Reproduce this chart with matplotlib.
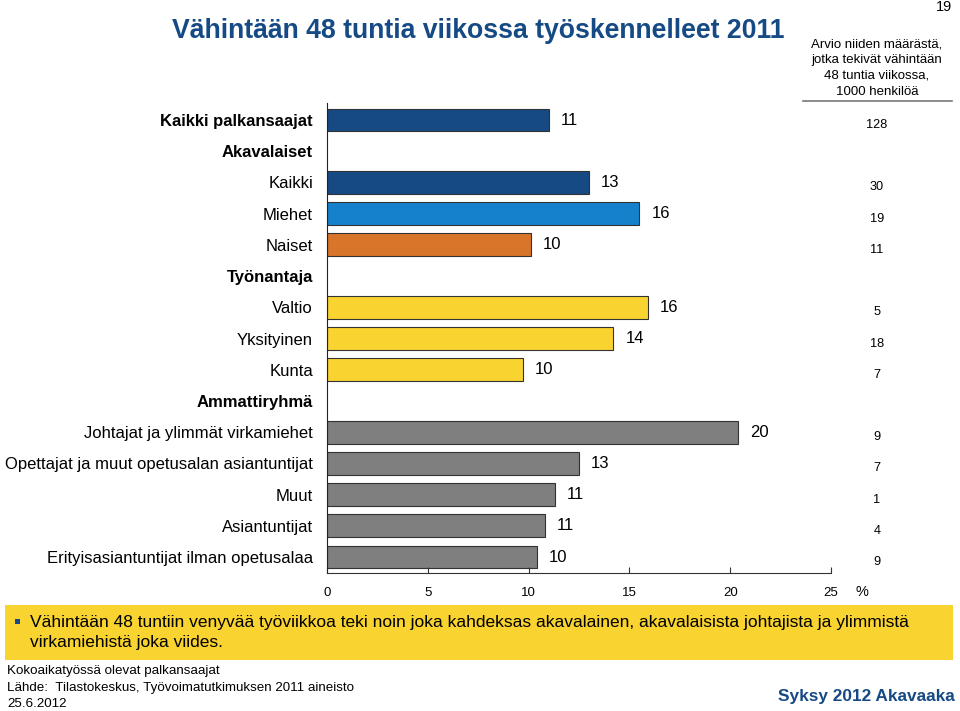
import matplotlib.pyplot as plt
from matplotlib.patches import Rectangle

plt.rcParams['font.family'] = ['Liberation Sans', 'DejaVu Sans']

# rows from top to bottom; header rows have no bar
labels = ['Kaikki palkansaajat', 'Akavalaiset', 'Kaikki', 'Miehet', 'Naiset',
          'Työnantaja', 'Valtio', 'Yksityinen', 'Kunta', 'Ammattiryhmä',
          'Johtajat ja ylimmät virkamiehet',
          'Opettajat ja muut opetusalan asiantuntijat', 'Muut',
          'Asiantuntijat', 'Erityisasiantuntijat ilman opetusalaa']
bold_rows = ['Kaikki palkansaajat', 'Akavalaiset', 'Työnantaja', 'Ammattiryhmä']
values = [11.0, None, 13.0, 15.5, 10.1, None, 15.9, 14.2, 9.7, None,
          20.4, 12.5, 11.3, 10.8, 10.4]
value_labels = ['11', '', '13', '16', '10', '', '16', '14', '10', '',
                '20', '13', '11', '11', '10']
counts = ['128', '', '30', '19', '11', '', '5', '18', '7', '',
          '9', '7', '1', '4', '9']

DARK = '#164a85'
LIGHT = '#1581cc'
ORANGE = '#d9742b'
YELLOW = '#f9d330'
GRAY = '#7f7f7f'
colors = [DARK, None, DARK, LIGHT, ORANGE, None, YELLOW, YELLOW, YELLOW, None,
          GRAY, GRAY, GRAY, GRAY, GRAY]

fig = plt.figure(figsize=(9.6, 7.11), dpi=100)
ax = fig.add_axes([327 / 960, 1 - 573 / 711, 504 / 960, 470 / 711])

for i, v in enumerate(values):
    if v is None:
        continue
    ax.barh(i, v, height=0.73, color=colors[i], edgecolor='#333333', linewidth=0.8)
    ax.text(v + 0.6, i, value_labels[i], va='center', ha='left', fontsize=12)

ax.set_xlim(0, 25)
ax.set_ylim(14.51, -0.545)
ax.set_yticks(range(len(labels)))
ax.set_yticklabels(labels, fontsize=12)
for t in ax.get_yticklabels():
    if t.get_text() in bold_rows:
        t.set_fontweight('bold')
ax.tick_params(axis='y', length=0, pad=10)
ax.set_xticks([0, 5, 10, 15, 20, 25])
ax.tick_params(axis='x', direction='in', length=4, labelsize=9.5, pad=10, color='#333333')
for s in ['top', 'right']:
    ax.spines[s].set_visible(False)
ax.spines['left'].set_color('#222222')
ax.spines['bottom'].set_color('#333333')
ax.set_facecolor('none')
fig.text(862 / 960, 1 - 592 / 711, '%', ha='center', va='center', fontsize=10.5)

# right column with counts
for i, c in enumerate(counts):
    if c:
        y = ax.transData.transform((0, i))[1]
        fig.text(877 / 960, (y - 5) / 711, c, ha='center', va='center', fontsize=9.2)
fig.text(877 / 960, 1 - 68 / 711,
         'Arvio niiden määrästä,\njotka tekivät vähintään\n48 tuntia viikossa,\n1000 henkilöä',
         ha='center', va='center', fontsize=9.5, linespacing=1.44)
fig.add_artist(plt.Line2D([803 / 960, 952 / 960], [1 - 101 / 711] * 2,
                          color='#777777', linewidth=1.2))

# title and page number
fig.text(172 / 960, 1 - 31 / 711, 'Vähintään 48 tuntia viikossa työskennelleet 2011',
         ha='left', va='center', fontsize=19.2, fontweight='bold', color=DARK)
fig.text(944 / 960, 1 - 7 / 711, '19', ha='center', va='center', fontsize=10.5)

# yellow note box
fig.add_artist(Rectangle((5 / 960, 1 - 660 / 711), 948 / 960, 55 / 711,
                         facecolor=YELLOW, edgecolor='none', transform=fig.transFigure))
fig.add_artist(Rectangle((15 / 960, 1 - 624 / 711), 5 / 960, 5 / 711,
                         facecolor=DARK, edgecolor='none', transform=fig.transFigure))
fig.text(30 / 960, 1 - 622 / 711,
         'Vähintään 48 tuntiin venyvää työviikkoa teki noin joka kahdeksas akavalainen, '
         'akavalaisista johtajista ja ylimmistä',
         ha='left', va='center', fontsize=12.5)
fig.text(30 / 960, 1 - 642 / 711, 'virkamiehistä joka viides.',
         ha='left', va='center', fontsize=12.5)

# footer
fig.text(7 / 960, 1 - 671 / 711, 'Kokoaikatyössä olevat palkansaajat',
         ha='left', va='center', fontsize=9.6)
fig.text(7 / 960, 1 - 688 / 711, 'Lähde:  Tilastokeskus, Työvoimatutkimuksen 2011 aineisto',
         ha='left', va='center', fontsize=9.6)
fig.text(7 / 960, 1 - 704 / 711, '25.6.2012', ha='left', va='center', fontsize=9.6)
fig.text(955 / 960, 1 - 697 / 711, 'Syksy 2012 Akavaaka', ha='right', va='center',
         fontsize=12.4, fontweight='bold', color=DARK)

fig.savefig('out.png', dpi=100)
